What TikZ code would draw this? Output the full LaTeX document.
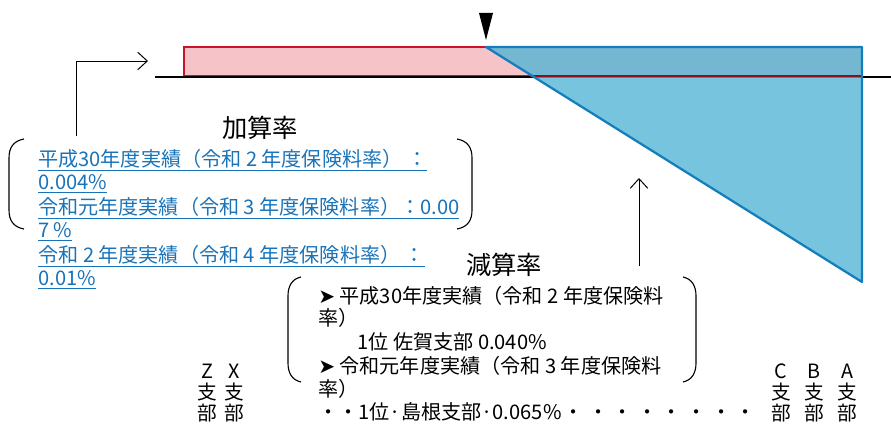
\documentclass[tikz,border=0pt]{standalone}
\usepackage{fontspec}
\setmainfont{Noto Sans CJK JP}
\newfontfamily\symfont{DejaVu Sans}
\usetikzlibrary{arrows.meta}
\definecolor{barred}{RGB}{200,20,40}
\definecolor{barpink}{RGB}{246,196,200}
\definecolor{barblue}{RGB}{20,125,190}
\definecolor{fillblue}{RGB}{80,180,212}
\definecolor{linkblue}{RGB}{25,115,185}
\begin{document}
\begin{tikzpicture}[x=0.025cm,y=-0.025cm,
    txt/.style={font=\fontsize{14.3}{16}\selectfont,inner sep=0pt},
    ttl/.style={font=\fontsize{18}{20}\selectfont,inner sep=0pt},
    addline/.style={txt,anchor=west,text=linkblue},
    subline/.style={txt,anchor=west},
    branch/.style={txt,anchor=north,align=center,font=\fontsize{14}{14.8}\selectfont},
    pointer/.style={line width=0.7pt,-{Straight Barb[length=2.4mm,width=4.4mm]}},
    paren/.style={line width=0.8pt}]
\useasboundingbox (0,0) rectangle (891,431);
% bars
\fill [barpink] (184,47) rectangle (862,76);
\draw [barred,line width=1.6pt] (486,47) -- (184,47) -- (184,76) -- (862,76);
\draw [line width=1.6pt] (155,77) -- (891,77);
\fill [fillblue,fill opacity=0.78] (486,47) -- (862,47) -- (862,282) -- cycle;
\draw [barred!70!black,line width=1.4pt] (530,76) -- (862,76);
\draw [barblue,line width=1.6pt,line join=round] (486,47) -- (862,47) -- (862,282) -- cycle;
\fill (479,13) -- (493,13) -- (486,40) -- cycle;
% add rate
\node [ttl] (addtitle) at (260,128) {加算率};
\node [addline] (add1) at (38,160) {\underline{平成30年度実績（令和 2 年度保険料率）\ ：}};
\node [addline] (add2) at (38,184) {\underline{0.004\%}};
\node [addline] (add3) at (38,208) {\underline{令和元年度実績（令和 3 年度保険料率）：0.00}};
\node [addline] (add4) at (38,232) {\underline{7 \%}};
\node [addline] (add5) at (38,256) {\underline{令和 2 年度実績（令和 4 年度保険料率）\ ：}};
\node [addline] (add6) at (38,280) {\underline{0.01\%}};
\draw [paren] (24,139) .. controls (13,141) and (9,148) .. (9,158) -- (9,210) .. controls (9,220) and (13,227) .. (24,229);
\draw [paren] (457,139) .. controls (468,141) and (472,148) .. (472,158) -- (472,210) .. controls (472,220) and (468,227) .. (457,229);
\coordinate (addfoot) at (76,136);
\coordinate (addturn) at (76,61);
\coordinate (addtip) at (148,61);
\draw [pointer] (addfoot) -- (addturn) -- (addtip);
% sub rate
\node [ttl] (subtitle) at (504,265) {減算率};
\node [subline] (sub1) at (318,296) {{\symfont ➤} 平成30年度実績（令和 2 年度保険料};
\node [subline] (sub2) at (318,318) {率）};
\node [subline] (sub3) at (357,342) {1位 佐賀支部 0.040\%};
\node [subline] (sub4) at (318,366) {{\symfont ➤} 令和元年度実績（令和 3 年度保険料};
\node [subline] (sub5) at (318,389) {率）};
\node [subline] (sub6) at (318,412) {・・1位·島根支部·0.065\%\hspace{0.1em}・ ・ ・ ・ ・ ・ ・ ・};
\draw [paren] (301,277) .. controls (292,279) and (288,286) .. (288,296) -- (288,363) .. controls (288,373) and (292,380) .. (301,382);
\draw [paren] (683,277) .. controls (692,279) and (696,286) .. (696,296) -- (696,363) .. controls (696,373) and (692,380) .. (683,382);
\coordinate (subfoot) at (639,266);
\coordinate (subtip) at (639,178);
\draw [pointer] (subfoot) -- (subtip);
% branches
\node [branch] (brz) at (207,364) {Z\\支\\部};
\node [branch] (brx) at (234,364) {X\\支\\部};
\node [branch] (brc) at (781,364) {C\\支\\部};
\node [branch] (brb) at (814,364) {B\\支\\部};
\node [branch] (bra) at (847,364) {A\\支\\部};
\end{tikzpicture}
\end{document}
